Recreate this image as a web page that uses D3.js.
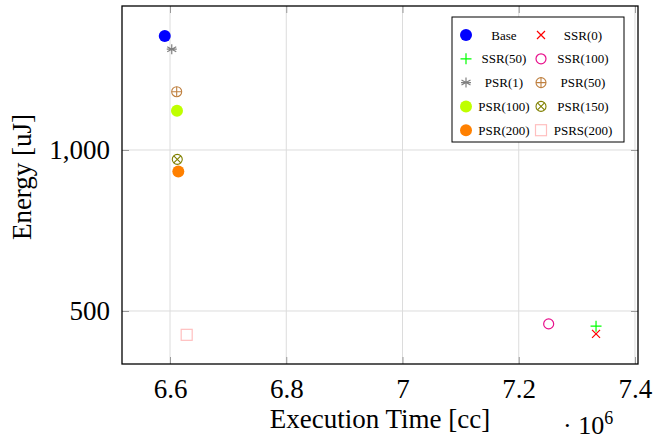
<!DOCTYPE html>
<html>
<head>
<meta charset="utf-8">
<script src="https://cdn.jsdelivr.net/npm/d3@7"></script>
<style>
  body { margin: 0; background: #fff; }
  svg text { font-family: "Liberation Serif", "DejaVu Serif", serif; fill: #000; }
</style>
</head>
<body>
<div id="chart"></div>
<script>
// series names, execution time (x 10^6 cc) and energy (uJ)
var series = ["Base", "SSR(0)", "SSR(50)", "SSR(100)", "PSR(1)", "PSR(50)", "PSR(100)", "PSR(150)", "PSR(200)", "PSRS(200)"];
var execTime = [6.591, 7.333, 7.333, 7.2515, 6.603, 6.6115, 6.612, 6.6125, 6.6143, 6.6287];
var energy = [1354, 429, 453, 460, 1313, 1181, 1122, 971, 933, 426];
var xTicks = [6.6, 6.8, 7, 7.2, 7.4];
var yTicks = [500, 1000];

// marker style per series
var markStyle = {
  "Base":      { shape: "dot",      color: "#0000ff" },
  "SSR(0)":    { shape: "x",        color: "#ff0000" },
  "SSR(50)":   { shape: "plus",     color: "#00ff00" },
  "SSR(100)":  { shape: "circle",   color: "#e8108c" },
  "PSR(1)":    { shape: "asterisk", color: "#808080" },
  "PSR(50)":   { shape: "oplus",    color: "#bf8040" },
  "PSR(100)":  { shape: "dot",      color: "#bfff00" },
  "PSR(150)":  { shape: "otimes",   color: "#808000" },
  "PSR(200)":  { shape: "dot",      color: "#ff8000" },
  "PSRS(200)": { shape: "square",   color: "#ffbfbf" }
};

var margin = { top: 6, right: 15, bottom: 80, left: 122 };
var width = 653 - margin.left - margin.right;
var height = 444 - margin.top - margin.bottom;

var svg = d3.select("#chart")
  .append("svg")
    .attr("width", 653)
    .attr("height", 444)
  .append("g")
    .attr("transform", `translate(${margin.left},${margin.top})`);

var x = d3.scaleLinear()
  .domain([6.5174, 7.4052])
  .range([0, width]);

var y = d3.scaleLinear()
  .domain([335.4, 1447.2])
  .range([height, 0]);

// grid lines
svg.append("g")
  .selectAll("line")
  .data(xTicks)
  .join("line")
    .attr("x1", d => x(d)).attr("x2", d => x(d))
    .attr("y1", 0).attr("y2", height)
    .attr("stroke", "#dcdcdc").attr("stroke-width", 1);

svg.append("g")
  .selectAll("line")
  .data(yTicks)
  .join("line")
    .attr("x1", 0).attr("x2", width)
    .attr("y1", d => y(d)).attr("y2", d => y(d))
    .attr("stroke", "#dcdcdc").attr("stroke-width", 1);

// axes: inward ticks on all four sides
var tickLen = 7;
svg.append("g")
  .attr("transform", "translate(0," + height + ")")
  .call(d3.axisBottom(x).tickValues(xTicks).tickSize(-tickLen).tickFormat(d3.format("")).tickPadding(15))
  .call(g => g.select(".domain").remove());

svg.append("g")
  .call(d3.axisTop(x).tickValues(xTicks).tickSize(-tickLen).tickFormat(""))
  .call(g => g.select(".domain").remove());

svg.append("g")
  .call(d3.axisLeft(y).tickValues(yTicks).tickSize(-tickLen).tickFormat(d3.format(",")).tickPadding(12))
  .call(g => g.select(".domain").remove());

svg.append("g")
  .attr("transform", "translate(" + width + ",0)")
  .call(d3.axisRight(y).tickValues(yTicks).tickSize(-tickLen).tickFormat(""))
  .call(g => g.select(".domain").remove());

svg.selectAll(".tick line").attr("stroke", "#999").attr("stroke-width", 1);
svg.selectAll(".tick text")
  .attr("font-family", "'Liberation Serif', serif")
  .attr("font-size", 27)
  .style("font-family", "'Liberation Serif', serif")
  .style("font-size", "27px")
  .attr("fill", "#000");

// frame
svg.append("rect")
  .attr("width", width).attr("height", height)
  .attr("fill", "none").attr("stroke", "#000").attr("stroke-width", 1.3);

// axis labels
svg.append("text")
  .attr("x", 380 - margin.left)
  .attr("y", height + 64)
  .style("text-anchor", "middle")
  .style("font-size", "27px")
  .text("Execution Time [cc]");

var sci = svg.append("text")
  .attr("x", 441)
  .attr("y", height + 70)
  .style("font-size", "26px");
sci.append("tspan").text("\u00b7 10");
sci.append("tspan").attr("dy", -10).style("font-size", "18px").text("6");

svg.append("text")
  .attr("transform", "rotate(-90)")
  .attr("x", -(177 - margin.top))
  .attr("y", 31 - margin.left)
  .style("text-anchor", "middle")
  .style("font-size", "27px")
  .text("Energy [uJ]");

// marker drawing
function drawMark(g, shape, color) {
  if (shape === "dot") {
    g.append("circle").attr("r", 6).attr("fill", color);
  } else if (shape === "circle") {
    g.append("circle").attr("r", 5).attr("fill", "none").attr("stroke", color).attr("stroke-width", 1.2);
  } else if (shape === "square") {
    g.append("rect").attr("x", -5.5).attr("y", -5.5).attr("width", 11).attr("height", 11)
      .attr("fill", "none").attr("stroke", color).attr("stroke-width", 1.2);
  } else if (shape === "x") {
    g.append("path").attr("d", "M-4,-4L4,4M-4,4L4,-4").attr("stroke", color).attr("stroke-width", 1.2);
  } else if (shape === "plus") {
    g.append("path").attr("d", "M-5.5,0L5.5,0M0,-5.5L0,5.5").attr("stroke", color).attr("stroke-width", 1.2);
  } else if (shape === "asterisk") {
    g.append("path").attr("d", "M0,-5L0,5M-4.5,-2.5L4.5,2.5M-4.5,2.5L4.5,-2.5M-5,0L5,0")
      .attr("stroke", color).attr("stroke-width", 1.2);
  } else if (shape === "oplus") {
    g.append("circle").attr("r", 5).attr("fill", "none").attr("stroke", color).attr("stroke-width", 1.1);
    g.append("path").attr("d", "M-5,0L5,0M0,-5L0,5").attr("stroke", color).attr("stroke-width", 1.1);
  } else if (shape === "otimes") {
    g.append("circle").attr("r", 5).attr("fill", "none").attr("stroke", color).attr("stroke-width", 1.1);
    g.append("path").attr("d", "M-3.5,-3.5L3.5,3.5M-3.5,3.5L3.5,-3.5").attr("stroke", color).attr("stroke-width", 1.1);
  }
}

// data points
series.forEach(function(name, i) {
  var g = svg.append("g")
    .attr("transform", "translate(" + x(execTime[i]) + "," + y(energy[i]) + ")");
  drawMark(g, markStyle[name].shape, markStyle[name].color);
});

// legend (two columns)
var legend = svg.append("g").attr("transform", "translate(" + (452 - margin.left) + "," + (17 - margin.top) + ")");
legend.append("rect")
  .attr("width", 172).attr("height", 125)
  .attr("fill", "#fff").attr("stroke", "#000").attr("stroke-width", 1);

series.forEach(function(name, i) {
  var col = i % 2, row = Math.floor(i / 2);
  var gx = col === 0 ? 14 : 89;
  var gy = 18 + row * 23.8;
  var g = legend.append("g").attr("transform", "translate(" + gx + "," + gy + ")");
  drawMark(g, markStyle[name].shape, markStyle[name].color);
  legend.append("text")
    .attr("x", col === 0 ? 52 : 131)
    .attr("y", gy + 4.5)
    .style("text-anchor", "middle")
    .style("font-size", "13px")
    .text(name);
});
</script>
</body>
</html>
